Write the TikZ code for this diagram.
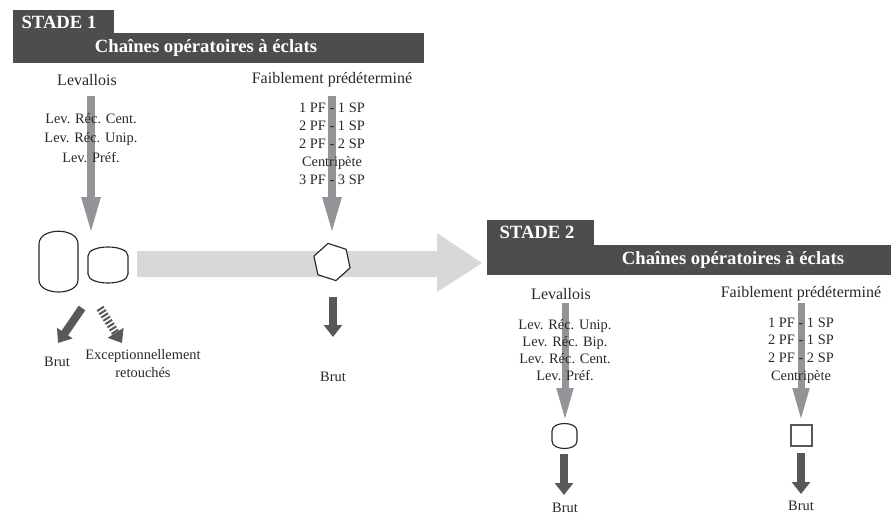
\documentclass[tikz,border=0pt]{standalone}
\usepackage{fontspec}
\setmainfont{Liberation Serif}
\usetikzlibrary{arrows.meta,shapes.geometric}
\definecolor{hdr}{RGB}{77,77,79}
\definecolor{midgray}{RGB}{147,148,151}
\definecolor{lightg}{RGB}{215,216,216}
\definecolor{darkar}{RGB}{88,88,90}
\definecolor{txt}{RGB}{40,40,40}
\begin{document}
\begin{tikzpicture}[x=0.75pt,y=-0.75pt,
  hdrbox/.style={fill=hdr,draw=none},
  hdrtxt/.style={text=white,font=\fontsize{14}{16}\selectfont\bfseries,inner sep=0},
  ttl/.style={text=txt,font=\fontsize{12}{14}\selectfont,inner sep=0},
  lst/.style={text=txt,align=center,inner sep=0},
  lbl/.style={text=txt,font=\fontsize{10.8}{13}\selectfont,inner sep=0},
  feedA/.style={draw=midgray,line width=6pt,-{Triangle[length=28.5pt,width=12.75pt]}},
  feedB/.style={draw=midgray,line width=5.25pt,-{Triangle[length=25.5pt,width=11.25pt]}},
  outar/.style={draw=darkar,line width=6pt,-{Triangle[length=9pt,width=13.5pt]}},
  shp/.style={draw=black!85,line width=0.85pt,fill=white},
]
\useasboundingbox (0,0) rectangle (894,515);

% ---------- STADE 1 header
\fill[hdrbox] (13,10) rectangle (114,34);
\fill[hdrbox] (13,33) rectangle (424,63);
\node[hdrtxt] (s1) at (59,22) {STADE 1};
\node[hdrtxt] (c1) at (206,48) {Chaînes opératoires à éclats};

\node[ttl] (lev1) at (87,80) {Levallois};
\node[ttl] (fai1) at (332,80) {Faiblement prédéterminé};

% big light arrow
\fill[lightg] (137,251) -- (437,251) -- (437,233) -- (482,263) -- (437,292) -- (437,277) -- (137,277) -- cycle;

% feed arrows stade 1
\coordinate (l1s) at (91,96);
\coordinate (l1e) at (91,235);
\coordinate (f1s) at (332,96);
\coordinate (f1e) at (332,235);
\draw[feedA] (l1s) -- (l1e);
\draw[feedA] (f1s) -- (f1e);

\node[lst,font=\fontsize{10.8}{14.6}\selectfont] (levl1) at (91,138)
  {Lev. Réc. Cent.\\Lev. Réc. Unip.\\Lev. Préf.};
\node[lst,font=\fontsize{10.8}{13.4}\selectfont] (fail1) at (332,144)
  {1 PF - 1 SP\\2 PF - 1 SP\\2 PF - 2 SP\\Centripète\\3 PF - 3 SP};

% shapes stade 1
\draw[shp] (39,244) .. controls (39,227) and (78,227) .. (78,244) -- (78,280)
  .. controls (78,296) and (39,296) .. (39,280) -- cycle;
\draw[shp] (88,256) .. controls (88,244) and (128,244) .. (128,256) -- (128,274)
  .. controls (128,286) and (88,286) .. (88,274) -- cycle;
\node[shp,regular polygon,regular polygon sides=6,minimum size=28.5pt,inner sep=0,
  rotate=-18] (hex) at (332,262) {};

% out arrows stade 1
\coordinate (b1s) at (82,308);
\coordinate (b1e) at (58,343);
\coordinate (x1s) at (100,308);
\coordinate (x1e) at (122,343);
\coordinate (m1s) at (333,297);
\coordinate (m1e) at (333,337);
\draw[outar] (b1s) -- (b1e);
\draw[outar,dash pattern=on 1.5pt off 1.4pt] (x1s) -- (x1e);
\draw[outar] (m1s) -- (m1e);

\node[lbl] (brut1) at (57,362) {Brut};
\node[lbl] (exc1) at (143,356) {Exceptionnellement};
\node[lbl] (ret1) at (143,373) {retouchés};
\node[lbl] (brut2) at (333,377) {Brut};

% ---------- STADE 2 header
\fill[hdrbox] (487,220) rectangle (594,246);
\fill[hdrbox] (487,245) rectangle (891,275);
\node[hdrtxt] (s2) at (537,232) {STADE 2};
\node[hdrtxt] (c2) at (733,260) {Chaînes opératoires à éclats};

\node[ttl] (lev2) at (561,294) {Levallois};
\node[ttl] (fai2) at (801,294) {Faiblement prédéterminé};

\coordinate (l2s) at (565,303);
\coordinate (l2e) at (565,422);
\coordinate (f2s) at (801,303);
\coordinate (f2e) at (801,422);
\draw[feedB] (l2s) -- (l2e);
\draw[feedB] (f2s) -- (f2e);

\node[lst,font=\fontsize{10.8}{12.75}\selectfont] (levl2) at (565,350)
  {Lev. Réc. Unip.\\Lev. Réc. Bip.\\Lev. Réc. Cent.\\Lev. Préf.};
\node[lst,font=\fontsize{10.8}{13.3}\selectfont] (fail2) at (801,350.5)
  {1 PF - 1 SP\\2 PF - 1 SP\\2 PF - 2 SP\\Centripète};

\draw[shp] (552,431) .. controls (552,421) and (577,421) .. (577,431) -- (577,441)
  .. controls (577,451) and (552,451) .. (552,441) -- cycle;
\node[shp,draw=darkar,rectangle,minimum size=15.75pt,inner sep=0] (sq) at (801.5,435.5) {};

\coordinate (b2s) at (564,454);
\coordinate (b2e) at (564,495);
\coordinate (b3s) at (801,453);
\coordinate (b3e) at (801,494);
\draw[outar] (b2s) -- (b2e);
\draw[outar] (b3s) -- (b3e);

\node[lbl] (brut3) at (565,507.5) {Brut};
\node[lbl] (brut4) at (801,506) {Brut};
\end{tikzpicture}
\end{document}
